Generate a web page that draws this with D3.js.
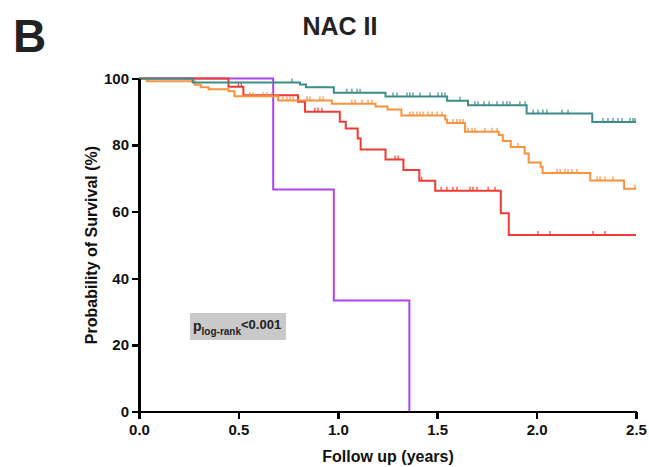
<!DOCTYPE html>
<meta charset="utf-8">
<style>
body { margin: 0; background: #fff; }
text { font-family: "Liberation Sans", Arial, sans-serif; }
.axis path, .axis line { stroke: #000; stroke-width: 2.5; fill: none; shape-rendering: crispEdges; }
.axis text { font-size: 15px; font-weight: bold; fill: #111; }
.km { fill: none; stroke-width: 2; }
</style>
<body>
<div id="chart"></div>
<script src="https://d3js.org/d3.v7.min.js"></script>
<script>
// step times (years) and survival (%) for each group
var purpleTimes = [0, 0.675, 0.98, 1.36];
var purpleSurv  = [100, 66.67, 33.33, 0];
var purpleCensor = [];

var redTimes = [0, 0.45, 0.525, 0.80, 0.835, 1.01, 1.04, 1.10, 1.115, 1.24, 1.33, 1.41, 1.49, 1.82, 1.86];
var redSurv  = [100, 97.5, 95.0, 93.0, 90.0, 87.0, 85.0, 82.0, 78.7, 75.7, 72.5, 69.3, 66.3, 59.5, 53.0];
var redCensor = [0.50, 0.515, 0.885, 0.90, 0.92, 1.288, 1.303, 1.422, 1.52, 1.549, 1.579, 1.60,
                 1.665, 1.68, 1.70, 1.756, 1.791, 2.007, 2.067, 2.284, 2.344];

var orangeTimes = [0, 0.04, 0.28, 0.31, 0.35, 0.45, 0.48, 0.70, 0.97, 1.19, 1.25, 1.32, 1.54, 1.55,
                   1.64, 1.81, 1.83, 1.87, 1.94, 1.96, 2.02, 2.03, 2.27, 2.44];
var orangeSurv  = [100, 99.2, 98.1, 97.4, 96.8, 96.2, 94.7, 93.4, 92.4, 91.6, 90.7, 88.9, 87.7, 86.6,
                   84.0, 83.0, 81.2, 79.4, 77.5, 74.8, 73.5, 71.6, 69.4, 66.9];
var orangeCensor = [0.558, 0.573, 0.624, 0.644, 0.669, 0.724, 0.744, 0.76, 0.775, 0.845, 0.86, 0.91, 0.926,
                    1.071, 1.087, 1.122, 1.152, 1.172, 1.363, 1.378, 1.398, 1.413, 1.429, 1.454, 1.474,
                    1.499, 1.524, 1.579, 1.599, 1.615, 1.63, 1.655, 1.675, 1.69, 1.74, 1.776, 1.801, 1.906,
                    2.103, 2.118, 2.143, 2.158, 2.178, 2.203, 2.304, 2.319, 2.344, 2.384, 2.495];

var tealTimes = [0, 0.27, 0.81, 0.84, 0.98, 1.24, 1.55, 1.655, 1.95, 2.28];
var tealSurv  = [100, 98.8, 98.2, 97.4, 95.7, 94.6, 93.3, 92.0, 89.5, 86.9];
var tealCensor = [0.77, 1.046, 1.071, 1.097, 1.112, 1.278, 1.298, 1.348, 1.363, 1.378, 1.413, 1.464, 1.504,
                  1.524, 1.539, 1.615, 1.69, 1.705, 1.735, 1.761, 1.801, 1.831, 1.851, 1.866, 1.916, 1.942,
                  1.982, 2.007, 2.032, 2.052, 2.128, 2.158, 2.334, 2.359, 2.384, 2.409, 2.43, 2.47, 2.485, 2.495];

var groupNames  = ["purple", "red", "orange", "teal"];
var groupColors = ["#ad44f0", "#ee3b34", "#f7923f", "#3d8c88"];
var groupEnds   = [1.36, 2.5, 2.5, 2.5];

var xTicks = [0, 0.5, 1.0, 1.5, 2.0, 2.5];
var yTicks = [0, 20, 40, 60, 80, 100];

var series = [
  {times: purpleTimes, surv: purpleSurv, censor: purpleCensor},
  {times: redTimes, surv: redSurv, censor: redCensor},
  {times: orangeTimes, surv: orangeSurv, censor: orangeCensor},
  {times: tealTimes, surv: tealSurv, censor: tealCensor}
];

var W = 649, H = 467;
var svg = d3.select("#chart").append("svg").attr("width", W).attr("height", H);

var x = d3.scaleLinear().domain([0, 2.5]).range([139, 636]);
var y = d3.scaleLinear().domain([0, 100]).range([411.5, 78.5]);

// panel letter and title
svg.append("text").attr("x", 13).attr("y", 52).style("font-size", "46px").style("font-weight", "bold")
  .style("fill", "#222").text("B");
svg.append("text").attr("x", 340).attr("y", 35).attr("text-anchor", "middle")
  .style("font-size", "25px").style("font-weight", "bold").style("fill", "#222").text("NAC II");

// curves
var line = d3.line().curve(d3.curveStepAfter).x(function(d) { return x(d[0]); }).y(function(d) { return y(d[1]); });

function survAt(s, t) {
  var v = s.surv[0];
  for (var i = 0; i < s.times.length; i++) if (s.times[i] <= t) v = s.surv[i];
  return v;
}

series.forEach(function(s, k) {
  var pts = s.times.map(function(t, i) { return [t, s.surv[i]]; });
  var last = pts[pts.length - 1];
  if (last[0] < groupEnds[k]) pts.push([groupEnds[k], last[1]]);
  svg.append("path").attr("class", "km").attr("d", line(pts)).attr("stroke", groupColors[k]);
  svg.selectAll(".cens-" + groupNames[k]).data(s.censor).enter().append("line")
    .attr("class", "cens-" + groupNames[k])
    .attr("x1", function(t) { return x(t); }).attr("x2", function(t) { return x(t); })
    .attr("y1", function(t) { return y(survAt(s, t)); })
    .attr("y2", function(t) { return y(survAt(s, t)) - 4; })
    .attr("stroke", groupColors[k]).attr("stroke-width", 1.2);
});

// axes
svg.append("g").attr("class", "axis").attr("transform", "translate(0," + y(0) + ")")
  .call(d3.axisBottom(x).tickValues(xTicks).tickFormat(d3.format(".1f")).tickSize(7).tickSizeOuter(0).tickPadding(6));
svg.append("g").attr("class", "axis").attr("transform", "translate(" + x(0) + ",0)")
  .call(d3.axisLeft(y).tickValues(yTicks).tickSize(7).tickSizeOuter(0).tickPadding(3));

svg.append("text").attr("x", 388).attr("y", 462).attr("text-anchor", "middle")
  .style("font-size", "16px").style("font-weight", "bold").style("fill", "#111").text("Follow up (years)");
svg.append("text").attr("transform", "translate(97,245) rotate(-90)").attr("text-anchor", "middle")
  .style("font-size", "16px").style("font-weight", "bold").style("fill", "#111").text("Probability of Survival (%)");

// p-value box
svg.append("rect").attr("x", 190).attr("y", 313).attr("width", 96).attr("height", 27).attr("fill", "#c9c9c9");
var pt = svg.append("text").attr("x", 193).attr("y", 331).style("font-weight", "bold").style("fill", "#222");
pt.append("tspan").style("font-size", "14px").text("p");
pt.append("tspan").style("font-size", "10px").attr("dy", 4).text("log-rank");
pt.append("tspan").style("font-size", "13px").attr("dy", -6).text("<0.001");
</script>
</body>
